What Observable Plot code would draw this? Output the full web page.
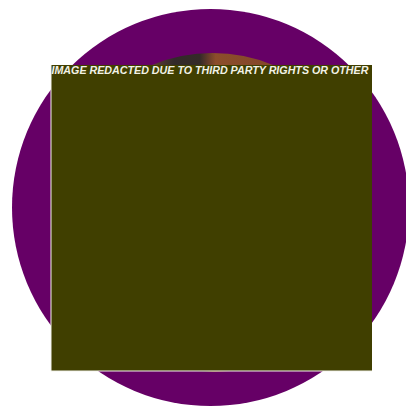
<!DOCTYPE html>
<html>
<head>
<meta charset="utf-8">
<script src="https://cdn.jsdelivr.net/npm/d3@7"></script>
<script src="https://cdn.jsdelivr.net/npm/@observablehq/plot@0.6"></script>
<style>
  html, body { margin: 0; padding: 0; background: #ffffff; }
  #chart svg { display: block; }
</style>
</head>
<body>
<div id="chart"></div>
<script>
// Picture elements, in page-unit coordinates (0..406 across, 0..407 down)
const discNames = ["outer", "photo"];
const discX = [210, 212];
const discY = [207, 212];
const discR = [198.5, 159.5];

const panelX1 = [51];
const panelX2 = [372];
const panelY1 = [65];
const panelY2 = [371];

const labels = ["IMAGE REDACTED DUE TO THIRD PARTY RIGHTS OR OTHER"];
const labelX = [51];
const labelY = [70.5];

const discs = discNames.map((n, i) => ({name: n, x: discX[i], y: discY[i], r: discR[i]}));
const panels = panelX1.map((v, i) => ({x1: v, x2: panelX2[i], y1: panelY1[i], y2: panelY2[i]}));
const texts = labels.map((t, i) => ({text: t, x: labelX[i], y: labelY[i]}));

const defs = () => {
  const d = d3.create("svg:defs");
  const g = d.append("linearGradient").attr("id", "photoGrad")
    .attr("x1", "0%").attr("x2", "100%").attr("y1", "0%").attr("y2", "0%");
  [["0%", "#7a4a36"], ["30%", "#6e4434"], ["34%", "#4a3430"], ["38%", "#322a2a"],
   ["46%", "#342a28"], ["49%", "#6a3e2a"], ["51%", "#8b4d2b"], ["65%", "#86482a"], ["100%", "#6e3e2c"]]
    .forEach(([o, c]) => g.append("stop").attr("offset", o).attr("stop-color", c));
  return d.node();
};

const chart = Plot.plot({
  width: 406,
  height: 407,
  margin: 0,
  x: {domain: [0, 406], range: [0, 406], axis: null},
  y: {domain: [0, 407], range: [0, 407], axis: null},
  r: {type: "identity"},
  style: {background: "#ffffff", overflow: "hidden"},
  marks: [
    defs,
    Plot.dot(discs.filter(d => d.name === "outer"), {x: "x", y: "y", r: "r", fill: "#660066", stroke: null}),
    Plot.dot(discs.filter(d => d.name === "photo"), {x: "x", y: "y", r: "r", fill: "url(#photoGrad)", stroke: null}),
    Plot.rect(panels, {x1: "x1", x2: "x2", y1: "y1", y2: "y2", fill: "#403f00"}),
    Plot.ruleX(panels, {x: d => d.x1 - 0.5, y1: "y1", y2: "y2", stroke: "#f4f4ec", strokeWidth: 1}),
    Plot.ruleY(panels, {y: d => d.y2 - 0.5, x1: "x1", x2: "x2", stroke: "#f4f4ec", strokeWidth: 1}),
    Plot.text(texts, {x: "x", y: "y", text: "text", textAnchor: "start",
      fill: "#f2f2e6", fontSize: 10.7, fontWeight: "bold", fontStyle: "italic",
      fontFamily: "Liberation Sans, Arial, sans-serif"})
  ]
});
chart.setAttribute("font-family", "Liberation Sans, Arial, sans-serif");
document.getElementById("chart").append(chart);
</script>
</body>
</html>
